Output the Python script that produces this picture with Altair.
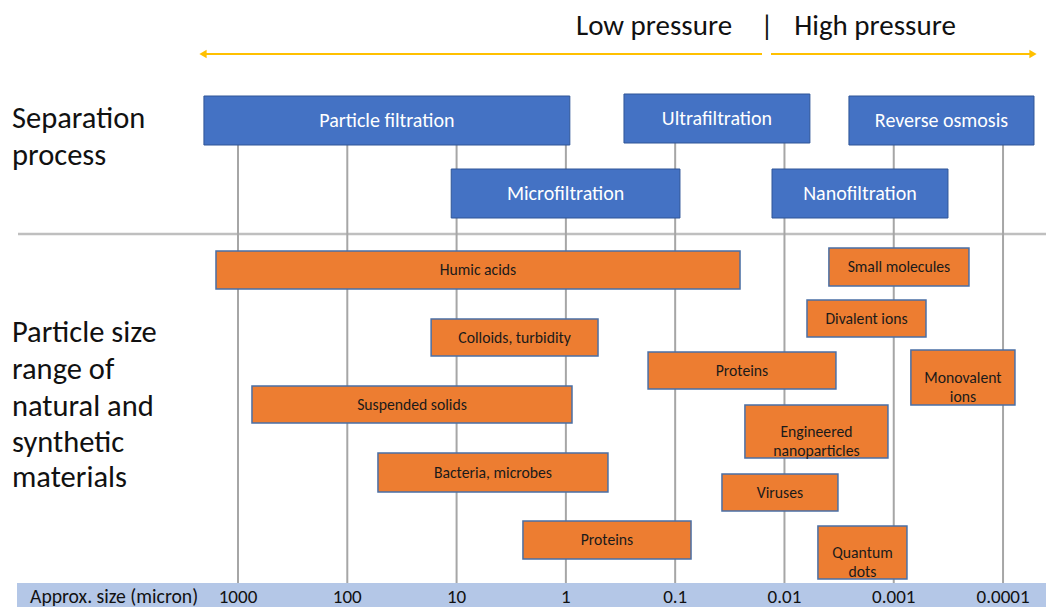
import altair as alt
import pandas as pd

FONT = "Carlito, Lato"

# Separation processes: size range (micron) and layout row (top, bottom)
proc_names = ["Particle filtration", "Ultrafiltration", "Reverse osmosis", "Microfiltration", "Nanofiltration"]
proc_max = [2050, 0.294, 0.00257, 11.2, 0.013]
proc_min = [0.92, 0.00585, 0.0000521, 0.0904, 0.000319]
proc_top = [96, 94, 96, 169, 169]
proc_bot = [145, 143, 145, 218, 218]

# Natural and synthetic materials
mat_names = ["Humic acids", "Small molecules", "Colloids, turbidity", "Divalent ions", "Proteins",
             "Monovalent\nions", "Suspended solids", "Engineered\nnanoparticles", "Bacteria, microbes",
             "Viruses", "Proteins", "Quantum\ndots"]
mat_max = [1590, 0.00392, 17.1, 0.00622, 0.177, 0.000697, 745, 0.0230, 52.4, 0.0373, 2.47, 0.00494]
mat_min = [0.0255, 0.000205, 0.508, 0.000507, 0.00338, 0.0000778, 0.879, 0.00113, 0.412, 0.00324, 0.0716, 0.000757]
mat_top = [251, 248, 319, 300, 352, 350, 386, 405, 453, 474, 521, 526]
mat_bot = [289, 286, 356, 337, 389, 405, 423, 458, 492, 511, 559, 579]

tick_vals = [1000, 100, 10, 1, 0.1, 0.01, 0.001, 0.0001]
tick_labels = ["1000", "100", "10", "1", "0.1", "0.01", "0.001", "0.0001"]

left_labels = ["Separation", "process", "Particle size", "range of", "natural and", "synthetic", "materials"]
left_label_y = [119, 156, 333, 370, 407, 443, 478]

TOP = 6
W, H = 1038, 599 - TOP
xs = alt.Scale(type="log", domain=[4.045e-5, 127200], reverse=True)
ys = alt.Scale(domain=[8 + TOP, 607], reverse=True)

procs = pd.DataFrame({"name": proc_names, "a": proc_max, "b": proc_min, "t": proc_top, "bt": proc_bot})
mats = pd.DataFrame({"name": mat_names, "a": mat_max, "b": mat_min, "t": mat_top, "bt": mat_bot})
ticks = pd.DataFrame({"v": tick_vals, "lab": tick_labels, "y0": 120, "y1": 583, "ty": 597})
lefts = pd.DataFrame({"lab": left_labels, "y": left_label_y})

X = lambda f: alt.X(f, type="quantitative", scale=xs, axis=None)
Y = lambda f: alt.Y(f, type="quantitative", scale=ys, axis=None)

one = pd.DataFrame({"k": [0]})
oy = 8 + TOP  # page offset of chart origin in y

band = alt.Chart(one).mark_rect(color="#B4C7E7").encode(
    x=alt.value(9), x2=alt.value(W), y=alt.value(583 - oy), y2=alt.value(H))

sep = alt.Chart(one).mark_rule(color="#BFBFBF", strokeWidth=2.5).encode(
    x=alt.value(10), x2=alt.value(W), y=alt.value(234 - oy))

grid = alt.Chart(ticks).mark_rule(color="#A6A6A6", strokeWidth=2).encode(
    x=X("v"), y=Y("y0"), y2="y1")

prect = alt.Chart(procs).mark_rect(fill="#4472C4", stroke="#2F5597", strokeWidth=1).encode(
    x=X("a"), x2="b", y=Y("t"), y2="bt")
ptext = alt.Chart(procs).transform_calculate(
    cx="sqrt(datum.a*datum.b)", cy="(datum.t+datum.bt)/2").mark_text(
    color="white", font=FONT, fontSize=20, baseline="middle").encode(
    x=X("cx:Q"), y=Y("cy:Q"), text="name")

mrect = alt.Chart(mats).mark_rect(fill="#ED7D31", stroke="#4A6FA5", strokeWidth=1.5).encode(
    x=X("a"), x2="b", y=Y("t"), y2="bt")
mtext = alt.Chart(mats).transform_calculate(
    cx="sqrt(datum.a*datum.b)", cy="(datum.t+datum.bt)/2").mark_text(
    color="#1a1a1a", font=FONT, fontSize=15.7, baseline="middle", lineBreak="\n", lineHeight=19).encode(
    x=X("cx:Q"), y=Y("cy:Q"), text="name")

tlab = alt.Chart(ticks).mark_text(color="#111", font=FONT, fontSize=19, baseline="middle").encode(
    x=X("v"), y=Y("ty"), text="lab")
axtitle = alt.Chart(one).mark_text(text="Approx. size (micron)", color="#111", font=FONT, fontSize=19.7,
                                   baseline="middle", align="left").encode(x=alt.value(22), y=alt.value(597 - oy))

ltext = alt.Chart(lefts).mark_text(color="#111", font=FONT, fontSize=30.5, baseline="middle", align="left").encode(
    x=alt.value(4), y=Y("y"), text="lab")

top_df = pd.DataFrame({"lab": ["Low pressure", "|", "High pressure"], "px": [646, 759, 867]})
toptext = alt.Chart(top_df).mark_text(color="#111", font=FONT, fontSize=29, baseline="middle").encode(
    x=alt.X("px:Q", scale=alt.Scale(domain=[0, W], range=[0, W]), axis=None), y=alt.value(26 - oy), text="lab")

ay = 54 - oy
arrow_l = alt.Chart(one).mark_rule(color="#FFC000", strokeWidth=2).encode(
    x=alt.value(194), x2=alt.value(754), y=alt.value(ay))
arrow_r = alt.Chart(one).mark_rule(color="#FFC000", strokeWidth=2).encode(
    x=alt.value(763), x2=alt.value(1026), y=alt.value(ay))
head_l = alt.Chart(one).mark_point(shape="triangle-left", filled=True, color="#FFC000", size=70, opacity=1).encode(
    x=alt.value(195), y=alt.value(ay))
head_r = alt.Chart(one).mark_point(shape="triangle-right", filled=True, color="#FFC000", size=70, opacity=1).encode(
    x=alt.value(1025), y=alt.value(ay))

chart = alt.layer(band, sep, grid, prect, ptext, mrect, mtext, tlab, axtitle, ltext, toptext,
                  arrow_l, arrow_r, head_l, head_r).resolve_scale(x="independent").properties(
    width=W, height=H, padding={"left": 0, "top": TOP, "right": 0, "bottom": 0},
    autosize=alt.AutoSizeParams(type="none")).configure_view(stroke=None)

chart.save("out.html", embed_options={"renderer": "svg", "actions": False})
